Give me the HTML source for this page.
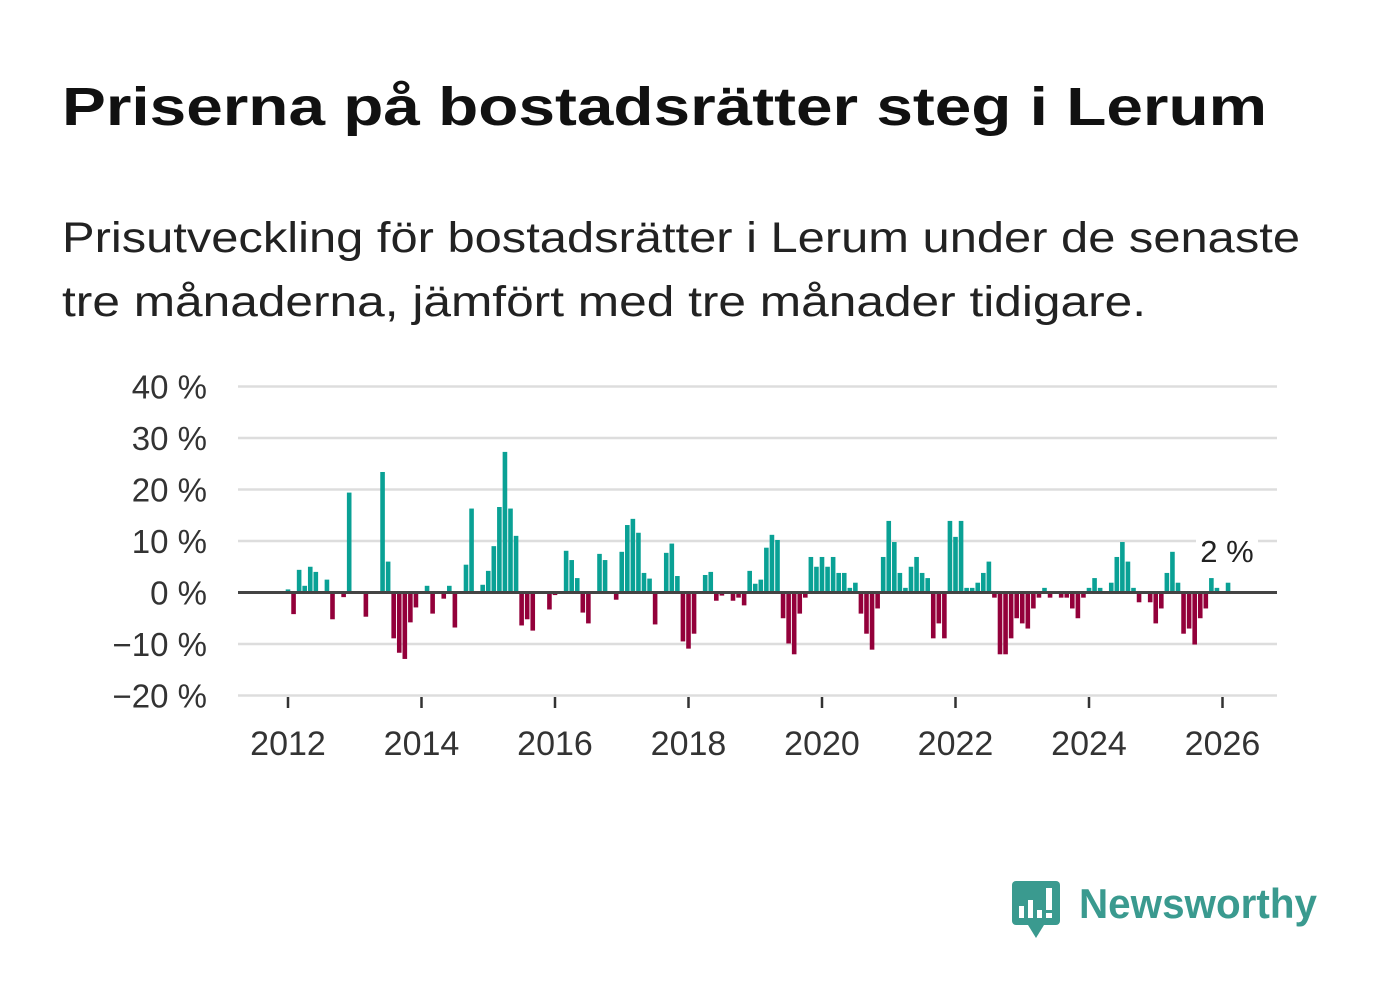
<!DOCTYPE html>
<html><head><meta charset="utf-8"><style>
html,body{margin:0;padding:0;background:#fff;}
svg{display:block;font-family:"Liberation Sans",sans-serif;}
</style></head><body>
<svg id="chart" width="1382" height="999" viewBox="0 0 1382 999">
<text x="62" y="125" font-size="54" font-weight="bold" fill="#111" textLength="1205" lengthAdjust="spacingAndGlyphs">Priserna på bostadsrätter steg i Lerum</text>
<text x="62" y="252" font-size="43" fill="#222" textLength="1238" lengthAdjust="spacingAndGlyphs">Prisutveckling för bostadsrätter i Lerum under de senaste</text>
<text x="62" y="316" font-size="43" fill="#222" textLength="1084" lengthAdjust="spacingAndGlyphs">tre månaderna, jämfört med tre månader tidigare.</text>
<g id="grid"></g>
<g id="ylabels"></g>
<g id="bars"></g>
<line x1="238" x2="1277" y1="592.5" y2="592.5" stroke="#444" stroke-width="3"/>
<g id="xaxis"></g>
<rect x="1196" y="532" width="62" height="38" fill="#fff"/>
<text id="lastlabel" x="1227" y="562" font-size="31" fill="#222" text-anchor="middle">2 %</text>
<g>
<rect x="1012" y="881" width="48" height="44" rx="4" fill="#3a9a8f"/>
<polygon points="1028,925 1044,925 1036,938" fill="#3a9a8f"/>
<rect x="1019" y="906" width="5" height="12" fill="#fff"/><rect x="1028" y="900" width="5" height="18" fill="#fff"/><rect x="1037" y="910" width="5" height="8" fill="#fff"/><rect x="1046" y="888" width="6" height="22" fill="#fff"/><rect x="1046" y="913" width="6" height="5" fill="#fff"/>
<text x="1079" y="918" font-size="42" font-weight="bold" fill="#3a9a8f" textLength="238" lengthAdjust="spacingAndGlyphs">Newsworthy</text>
</g>
</svg>
<script>
const startYear = 2012;
const values = [
0.6,-4.2,4.4,1.3,5.0,4.0,0,2.5,-5.2,0,-0.9,19.4,
0,0,-4.7,0,0,23.4,6.0,-8.9,-11.7,-12.9,-5.8,-2.9,
0,1.3,-4.1,0,-1.2,1.3,-6.8,0,5.4,16.3,0,1.5,
4.2,9.0,16.6,27.3,16.3,11.0,-6.4,-5.2,-7.4,0,0,-3.3,
-0.5,0,8.1,6.3,2.8,-3.9,-6.0,0,7.5,6.3,0,-1.4,
7.9,13.1,14.3,11.6,3.8,2.7,-6.2,0,7.7,9.5,3.2,-9.5,
-10.9,-8.0,0,3.4,4.0,-1.6,-0.6,0,-1.6,-1.0,-2.5,4.2,
1.7,2.5,8.7,11.2,10.2,-5.0,-9.9,-12.0,-4.1,-1.0,6.9,5.0,
6.9,5.0,6.9,3.8,3.8,0.9,1.9,-4.1,-8.0,-11.1,-3.1,6.9,
13.9,9.8,3.8,0.9,5.0,6.9,3.8,2.8,-8.9,-6.0,-8.9,13.9,
10.8,13.9,0.9,0.9,1.9,3.8,6.0,-1.0,-12.0,-12.0,-8.9,-5.0,
-6.0,-7.0,-3.1,-1.0,0.9,-1.0,0,-1.0,-1.0,-3.1,-5.0,-1.0,
0.9,2.8,0.9,0,1.9,6.9,9.8,6.0,0.9,-1.9,0,-1.9,
-6.0,-3.1,3.8,7.9,1.9,-8.0,-7.0,-10.1,-5.0,-3.1,2.8,0.9,
0,1.9
];
const yTicks = [40,30,20,10,0,-10,-20];
const xTickYears = [2012,2014,2016,2018,2020,2022,2024,2026];

const NS = "http://www.w3.org/2000/svg";
function yScale(v){ return 592.5 - v*5.15; }
function xScale(monthIdx){ return 288 + monthIdx*(66.75/12); }
function mk(tag, attrs, parent){ const e=document.createElementNS(NS,tag); for(const k in attrs) e.setAttribute(k,attrs[k]); parent.appendChild(e); return e; }

const grid=document.getElementById('grid'), yl=document.getElementById('ylabels');
yTicks.forEach(t=>{
  const l=mk('line',{x1:238,x2:1277,y1:yScale(t),y2:yScale(t),stroke:'#ddd','stroke-width':2.5},grid);
  
  
  const tx=mk('text',{x:207,y:yScale(t)+12,'font-size':33,fill:'#333','text-anchor':'end'},yl);
  tx.textContent=(t<0?'\u2212'+(-t):t)+' %';
  
  
});
const bars=document.getElementById('bars');
values.forEach((v,i)=>{
  if(v===0) return;
  const x=xScale(i)-2.3, y0=yScale(0), y1=yScale(v);
  const r=mk('rect',{x:x,width:4.6,y:Math.min(y0,y1),height:Math.abs(y1-y0),fill:v>0?'#0aa195':'#93003a'},bars);
  
  
});
const xa=document.getElementById('xaxis');
xTickYears.forEach(yr=>{
  const x=xScale((yr-startYear)*12);
  const tk=mk('line',{x1:x,x2:x,y1:697,y2:708,stroke:'#333','stroke-width':2.5},xa);
  
  
  const tx=mk('text',{x:x,y:755,'font-size':34,fill:'#333','text-anchor':'middle'},xa);
  tx.textContent=yr;
  
  
});
const last=values[values.length-1];
document.getElementById('lastlabel').textContent=Math.round(last)+' %';
</script>
</body></html>
